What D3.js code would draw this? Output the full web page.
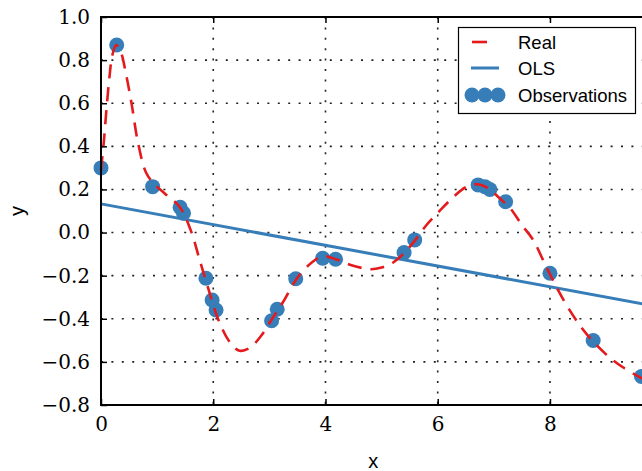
<!DOCTYPE html>
<html>
<head>
<meta charset="utf-8">
<script src="https://cdn.jsdelivr.net/npm/d3@7"></script>
<style>
  body { margin: 0; background: #fff; }
  svg { display: block; }
</style>
</head>
<body>
<div id="chart"></div>
<script>
// true curve
const realX = [0, 0.05, 0.1, 0.15, 0.2, 0.27, 0.35, 0.45, 0.55, 0.65, 0.8, 0.95, 1.15, 1.4, 1.6, 1.75, 1.9, 2.1, 2.3, 2.47, 2.65, 2.85, 3.05, 3.25, 3.5, 3.75, 3.95, 4.2, 4.45, 4.8, 5.0, 5.2, 5.4, 5.6, 5.8, 6.05, 6.3, 6.5, 6.7, 6.9, 7.1, 7.3, 7.5, 7.7, 7.9, 8.1, 8.35, 8.65, 9.0, 9.3, 9.7];
const realY = [0.29, 0.42, 0.58, 0.72, 0.82, 0.87, 0.84, 0.73, 0.59, 0.43, 0.28, 0.225, 0.178, 0.12, 0.01, -0.12, -0.25, -0.41, -0.51, -0.548, -0.535, -0.48, -0.40, -0.32, -0.21, -0.14, -0.11, -0.125, -0.15, -0.17, -0.162, -0.14, -0.095, -0.035, 0.035, 0.105, 0.17, 0.21, 0.224, 0.205, 0.16, 0.11, 0.035, -0.034, -0.14, -0.245, -0.36, -0.47, -0.565, -0.625, -0.685];

// fitted line end points
const olsX = [0, 9.7];
const olsY = [0.133, -0.333];

// observations
const obsX = [0.0, 0.28, 0.92, 1.41, 1.47, 1.87, 1.98, 2.05, 3.04, 3.14, 3.47, 3.95, 4.18, 5.40, 5.59, 6.72, 6.84, 6.93, 7.21, 8.0, 8.77, 9.63];
const obsY = [0.30, 0.87, 0.213, 0.117, 0.09, -0.212, -0.313, -0.359, -0.409, -0.356, -0.214, -0.119, -0.124, -0.093, -0.034, 0.221, 0.213, 0.20, 0.143, -0.189, -0.501, -0.668];

const xTicks = [0, 2, 4, 6, 8];
const yTicks = [-0.8, -0.6, -0.4, -0.2, 0.0, 0.2, 0.4, 0.6, 0.8, 1.0];

const legendLabels = ["Real", "OLS", "Observations"];

const WIDTH = 642;
const HEIGHT = 471;
const MARGIN = { TOP: 17, LEFT: 101, BOTTOM: 66 };
const RED = "#e41a1c";
const BLUE = "#377eb8";

const svg = d3.select("#chart")
    .append("svg")
    .attr("width", WIDTH)
    .attr("height", HEIGHT);

const x = d3.scaleLinear()
    .domain([0, 9.7])
    .range([MARGIN.LEFT, MARGIN.LEFT + 9.7 * 56.12]);

const y = d3.scaleLinear()
    .domain([-0.8, 1.0])
    .range([HEIGHT - MARGIN.BOTTOM, MARGIN.TOP]);

const plotBottom = y(-0.8);
const plotTop = y(1.0);
const plotLeft = x(0);
const plotRight = x(9.7);

// grid
const grid = svg.append("g")
    .attr("stroke", "#222")
    .attr("stroke-width", 1.6)
    .attr("stroke-dasharray", "2,8.4");

grid.selectAll(".gx")
    .data(xTicks.slice(1))
    .enter().append("line")
    .attr("x1", d => x(d)).attr("x2", d => x(d))
    .attr("y1", plotTop).attr("y2", plotBottom);

grid.selectAll(".gy")
    .data(yTicks.slice(1, -1))
    .enter().append("line")
    .attr("x1", plotLeft).attr("x2", plotRight)
    .attr("y1", d => y(d)).attr("y2", d => y(d));

// OLS
const line = d3.line().x(d => x(d[0])).y(d => y(d[1]));

svg.append("path")
    .datum(d3.zip(olsX, olsY))
    .attr("fill", "none")
    .attr("stroke", BLUE)
    .attr("stroke-width", 3)
    .attr("d", line);

// observations
svg.selectAll(".obs")
    .data(d3.zip(obsX, obsY))
    .enter().append("circle")
    .attr("cx", d => x(d[0]))
    .attr("cy", d => y(d[1]))
    .attr("r", 7.5)
    .attr("fill", BLUE);

// real curve
svg.append("path")
    .datum(d3.zip(realX, realY))
    .attr("fill", "none")
    .attr("stroke", RED)
    .attr("stroke-width", 2.6)
    .attr("stroke-dasharray", "14,9")
    .attr("d", line.curve(d3.curveCatmullRom));

// axes
const tickFont = "DejaVu Serif, serif";

const xAxis = svg.append("g")
    .attr("transform", `translate(0, ${plotBottom})`)
    .call(d3.axisBottom(x).tickValues(xTicks).tickSize(-6).tickPadding(12).tickFormat(d3.format("d")));

const xTop = svg.append("g")
    .attr("transform", `translate(0, ${plotTop})`)
    .call(d3.axisTop(x).tickValues(xTicks).tickSize(-6).tickFormat(""));

const yAxis = svg.append("g")
    .attr("transform", `translate(${plotLeft}, 0)`)
    .call(d3.axisLeft(y).tickValues(yTicks).tickSize(-6).tickPadding(11)
        .tickFormat(d => d3.format(".1f")(d).replace("-", "\u2212")));

[xAxis, xTop, yAxis].forEach(g => {
    g.select(".domain").remove();
    g.selectAll(".tick line").attr("stroke", "#000").attr("stroke-width", 1.5);
    g.selectAll("text")
        .attr("font-family", tickFont)
        .attr("font-size", 20)
        .attr("fill", "#000");
});

// spines
svg.append("path")
    .attr("fill", "none")
    .attr("stroke", "#000")
    .attr("stroke-width", 2)
    .attr("d", `M${plotRight + 5},${plotTop}H${plotLeft}V${plotBottom}H${plotRight + 5}`);

// axis labels
svg.append("text")
    .attr("x", (plotLeft + plotRight) / 2)
    .attr("y", 468)
    .attr("text-anchor", "middle")
    .attr("font-family", "Liberation Sans, Arial, sans-serif")
    .attr("font-size", 20)
    .text("x");

svg.append("text")
    .attr("transform", `translate(24, ${(plotTop + plotBottom) / 2}) rotate(-90)`)
    .attr("text-anchor", "middle")
    .attr("font-family", "Liberation Sans, Arial, sans-serif")
    .attr("font-size", 20)
    .text("y");

// legend
const legend = svg.append("g");

legend.append("rect")
    .attr("x", 458.5).attr("y", 27.5)
    .attr("width", 177).attr("height", 86)
    .attr("fill", "#fff")
    .attr("stroke", "#000")
    .attr("stroke-width", 1.2);

const rowY = [42, 68, 95];

// only the first dash of the pattern fits in the sample
legend.append("line")
    .attr("x1", 472).attr("x2", 499)
    .attr("y1", rowY[0]).attr("y2", rowY[0])
    .attr("stroke", RED).attr("stroke-width", 2.6)
    .attr("stroke-dasharray", "15,20");

legend.append("line")
    .attr("x1", 471).attr("x2", 499)
    .attr("y1", rowY[1]).attr("y2", rowY[1])
    .attr("stroke", BLUE).attr("stroke-width", 3);

legend.selectAll(".lm")
    .data([472, 485, 498])
    .enter().append("circle")
    .attr("cx", d => d).attr("cy", rowY[2])
    .attr("r", 7.5)
    .attr("fill", BLUE);

legend.selectAll(".lt")
    .data(legendLabels)
    .enter().append("text")
    .attr("x", 518)
    .attr("y", (d, i) => rowY[i] + 6.6)
    .attr("font-family", "Liberation Sans, Arial, sans-serif")
    .attr("font-size", 18.5)
    .attr("fill", "#000")
    .text(d => d);
</script>
</body>
</html>
